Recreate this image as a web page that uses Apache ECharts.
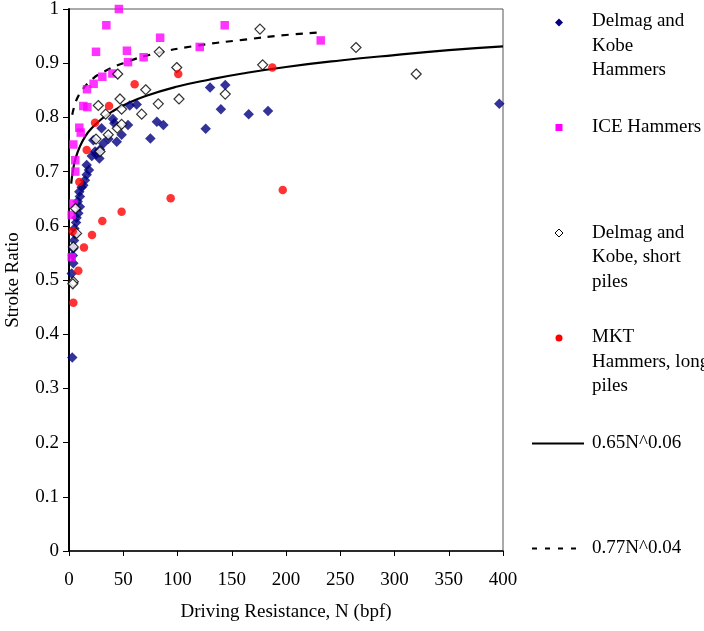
<!DOCTYPE html>
<html><head><meta charset="utf-8">
<script src="https://cdn.jsdelivr.net/npm/echarts@6/dist/echarts.min.js"></script>
<style>html,body{margin:0;padding:0;background:#fff}#c{width:704px;height:631px}</style>
</head><body><div id="c"></div>
<script>
var xTicks = [0,50,100,150,200,250,300,350,400];
var yTicks = [0,0.1,0.2,0.3,0.4,0.5,0.6,0.7,0.8,0.9,1];

var delmag = [[130,0.855],[144,0.860],[126,0.779],[140,0.815],[165.6,0.806],[183.4,0.812],[396.6,0.825],
[56,0.822],[62.4,0.824],[81,0.792],[87,0.786],[75,0.761],[54.4,0.786],[48.5,0.768],[41.8,0.789],[30,0.780],
[44,0.755],[36.3,0.760],[31.6,0.752],[28.6,0.741],[22.4,0.758],[24,0.737],[21,0.729],[28,0.724],[25,0.732],
[16.3,0.712],[18.4,0.703],[16.3,0.694],[14.7,0.684],[13.2,0.675],[11.7,0.671],[9.5,0.663],[10,0.654],
[10,0.635],[8.6,0.623],[6.5,0.606],[5.5,0.585],[4.6,0.573],[4,0.558],[4,0.531],[2.5,0.512],[3,0.357],
[8,0.645],[7,0.615],[5,0.595],[3.5,0.545],[40.5,0.797]];

var ice = [[46,1.0],[34.4,0.970],[143.5,0.970],[84,0.947],[120.5,0.930],[232,0.942],[24.9,0.921],[53.4,0.923],
[54.4,0.902],[68.8,0.911],[30.7,0.875],[40,0.881],[22.7,0.862],[16.6,0.852],[13.2,0.821],[16.9,0.819],
[9.5,0.781],[10.8,0.772],[4,0.750],[5.8,0.721],[5.8,0.700],[4,0.641],[2.5,0.620],[2.5,0.542]];

var shortPiles = [[176,0.963],[264.5,0.929],[320,0.880],[178.5,0.897],[144,0.843],[83.2,0.921],[99.3,0.892],
[44.9,0.880],[70.7,0.851],[101.4,0.834],[47,0.834],[27,0.822],[82.3,0.825],[48.5,0.815],[67,0.806],
[33.8,0.806],[44.5,0.780],[48.5,0.787],[36.2,0.768],[24.9,0.760],[28.6,0.737],[7,0.586],[4,0.561],
[4,0.497],[3.5,0.493],[6,0.632]];

var mkt = [[187.4,0.892],[197,0.666],[100.7,0.880],[60.5,0.861],[36.9,0.821],[24,0.790],[16.3,0.740],
[9.5,0.681],[93.7,0.651],[48.5,0.626],[30.7,0.609],[21.2,0.583],[13.8,0.560],[3.4,0.590],[8.6,0.517],[4,0.458]];

var fitSolidN = [2,4,6,10,15,20,30,40,50,70,100,130,160,200,250,300,350,400];
var fitSolidY = [0.678,0.706,0.724,0.746,0.765,0.778,0.797,0.811,0.822,0.839,0.857,0.870,0.881,0.893,0.905,0.915,0.924,0.931];
var fitDashN = [3,5,8,12,20,30,50,80,120,160,200,232];
var fitDashY = [0.805,0.821,0.837,0.850,0.868,0.882,0.900,0.918,0.933,0.943,0.952,0.957];

var legendNames = ['Delmag and\nKobe\nHammers','ICE Hammers','Delmag and\nKobe, short\npiles','MKT\nHammers, long\npiles','0.65N^0.06','0.77N^0.04'];

function zip(a,b){return a.map(function(v,i){return [v,b[i]];});}

var FONT = '"Liberation Serif","Times New Roman",serif';
var chart = echarts.init(document.getElementById('c'));
var txt = {fontFamily:FONT,fontSize:19,fill:'#000',lineHeight:24.5};
function legText(y,s){return {type:'text',left:592,top:y,style:Object.assign({text:s},txt)};}

chart.setOption({
  animation:false,
  backgroundColor:'#fff',
  grid:{left:69,right:201,top:9,bottom:80,show:true,borderColor:'#555',borderWidth:1,
    containLabel:false,outerBoundsMode:'none'},
  xAxis:{type:'value',min:0,max:400,interval:50,
    name:'Driving Resistance, N (bpf)',nameLocation:'middle',nameGap:52,
    nameTextStyle:{fontFamily:FONT,fontSize:19,color:'#000'},
    axisLine:{lineStyle:{color:'#000',width:1.5}},
    axisTick:{show:true,length:5,lineStyle:{color:'#000'}},
    axisLabel:{fontFamily:FONT,fontSize:19,color:'#000',margin:20},
    splitLine:{show:false}},
  yAxis:{type:'value',min:0,max:1,interval:0.1,
    name:'Stroke Ratio',nameLocation:'middle',nameGap:46,
    nameTextStyle:{fontFamily:FONT,fontSize:19,color:'#000'},
    axisLine:{show:true,lineStyle:{color:'#000',width:2}},
    axisTick:{show:true,length:6,lineStyle:{color:'#000'}},
    axisLabel:{fontFamily:FONT,fontSize:19,color:'#000',margin:10},
    splitLine:{show:false}},
  series:[
    {name:legendNames[4],type:'line',data:zip(fitSolidN,fitSolidY),smooth:true,symbol:'none',
      lineStyle:{color:'#000',width:2.2},z:2},
    {name:legendNames[5],type:'line',data:zip(fitDashN,fitDashY),smooth:true,symbol:'none',
      lineStyle:{color:'#000',width:2.2,type:[7,7]},z:2},
    {name:legendNames[0],type:'scatter',data:delmag,symbol:'diamond',symbolSize:10.5,
      itemStyle:{color:'#000080'},z:3},
    {name:legendNames[1],type:'scatter',data:ice,symbol:'rect',symbolSize:8.5,
      itemStyle:{color:'#ff00ff'},z:3},
    {name:legendNames[2],type:'scatter',data:shortPiles,symbol:'diamond',symbolSize:10,
      itemStyle:{color:'#fff',borderColor:'#000',borderWidth:1.2},z:4},
    {name:legendNames[3],type:'scatter',data:mkt,symbol:'circle',symbolSize:8.5,
      itemStyle:{color:'#ff0000'},z:5}
  ],
  graphic:[
    {type:'polygon',shape:{points:[[559,18.5],[563,22.5],[559,26.5],[555,22.5]]},style:{fill:'#000080'}},
    legText(9,legendNames[0]),
    {type:'rect',shape:{x:555.5,y:124,width:7,height:7},style:{fill:'#ff00ff'}},
    legText(115,legendNames[1]),
    {type:'polygon',shape:{points:[[559,229],[563,233],[559,237],[555,233]]},style:{fill:'#fff',stroke:'#000',lineWidth:1}},
    legText(220.5,legendNames[2]),
    {type:'circle',shape:{cx:559,cy:338,r:3.5},style:{fill:'#ff0000'}},
    legText(325,legendNames[3]),
    {type:'line',shape:{x1:532,y1:443.5,x2:584,y2:443.5},style:{stroke:'#000',lineWidth:2.2}},
    legText(431,legendNames[4]),
    {type:'line',shape:{x1:532,y1:548.5,x2:584,y2:548.5},style:{stroke:'#000',lineWidth:2.2,lineDash:[5,8]}},
    legText(536,legendNames[5])
  ]
});
</script></body></html>
